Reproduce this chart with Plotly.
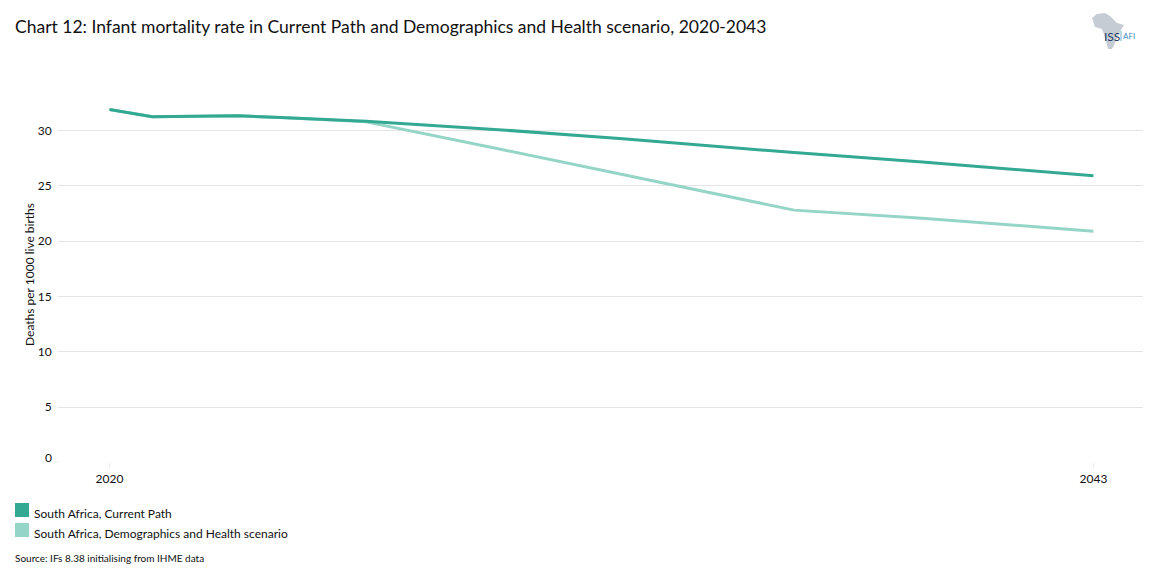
import plotly.graph_objects as go

years = [2020, 2021, 2022, 2023, 2024, 2025, 2026, 2029, 2032, 2036, 2039, 2043]
current_path = [31.9, 31.25, 31.28, 31.33, 31.17, 31.0, 30.83, 30.1, 29.25, 28.0, 27.15, 25.9]
scen_years = [2020, 2021, 2022, 2023, 2024, 2025, 2026, 2029, 2032, 2036, 2039, 2043]
scenario = [31.9, 31.25, 31.28, 31.33, 31.17, 31.0, 30.78, 28.42, 26.0, 22.8, 22.06, 20.9]
y_ticks = [5, 10, 15, 20, 25, 30]
x_ticks = [2020, 2043]
DARK = "#33a994"
LIGHT = "#95d5c8"
GRID = "#e4e4e4"
FONT = "Lato"
OFF = 8  # the page body margin
W, H = 1138, 567
L, R, T, B = 58, 1143, 60, 462.3
X0, XS = 109.5, 42.78
YS = 11.06


def px(x):
    return (x - OFF) / W


def py(y):
    return 1 - (y - OFF) / H


fig = go.Figure()
fig.add_trace(go.Scatter(x=scen_years, y=scenario, mode="lines", name="South Africa, Demographics and Health scenario",
                         line=dict(color=LIGHT, width=3), showlegend=False))
fig.add_trace(go.Scatter(x=years, y=current_path, mode="lines", name="South Africa, Current Path",
                         line=dict(color=DARK, width=3), showlegend=False))

ann = [
    ("Chart 12: Infant mortality rate in Current Path and Demographics and Health scenario, 2020-2043", 15, 26, 17.5, "#111111", "left"),
    ("South Africa, Current Path", 34, 513, 12, "#111111", "left"),
    ("South Africa, Demographics and Health scenario", 34, 533, 12, "#111111", "left"),
    ("Source: IFs 8.38 initialising from IHME data", 15, 558, 10, "#111111", "left"),
    ("0", 52, 457.5, 12, "#111111", "right"),
    ("ISS", 1104, 36, 12, "#1f3d66", "left"),
    ("AFI", 1123, 36, 8, "#3b8ec2", "left"),
]
annotations = [dict(text=t, x=px(x), y=py(y), xref="paper", yref="paper", xanchor=anc, yanchor="middle",
                    showarrow=False, borderpad=0, borderwidth=0,
                    font=dict(family=FONT, size=s, color=c)) for t, x, y, s, c, anc in ann]
annotations.append(dict(text="Deaths per 1000 live births", x=px(29), y=py(275), xref="paper", yref="paper",
                        xanchor="center", yanchor="middle", textangle=-90, showarrow=False, borderpad=0,
                        font=dict(family=FONT, size=12, color="#111111")))

africa = [(1092, 18), (1097, 14), (1105, 13), (1110, 16), (1117, 23), (1124, 25), (1118, 35), (1115, 43),
          (1112, 49), (1108, 49), (1105, 37), (1102, 29), (1095, 27)]
africa_path = "M " + " L ".join(f"{px(a):.5f} {py(b):.5f}" for a, b in africa) + " Z"
shapes = [
    dict(type="rect", xref="paper", yref="paper", x0=px(15), x1=px(29), y0=py(517), y1=py(503), fillcolor=DARK, line_width=0),
    dict(type="rect", xref="paper", yref="paper", x0=px(15), x1=px(29), y0=py(537), y1=py(523), fillcolor=LIGHT, line_width=0),
    dict(type="path", xref="paper", yref="paper", fillcolor="#c5ccd4", line_width=0, path=africa_path),
    dict(type="line", xref="paper", yref="paper", x0=px(1121), x1=px(1121), y0=py(31), y1=py(41), line=dict(color="#3b8ec2", width=0.7)),
    dict(type="line", xref="paper", yref="paper", x0=px(54), x1=px(58), y0=py(B), y1=py(B), line=dict(color="#eeeeee", width=1)),
]

fig.update_layout(
    width=W, height=H, autosize=False,
    margin=dict(l=0, r=0, t=0, b=0),
    paper_bgcolor="white", plot_bgcolor="white",
    font=dict(family=FONT, size=12, color="#111111"),
    annotations=annotations, shapes=shapes,
    xaxis=dict(domain=[px(L), px(R)],
               range=[2020 + (L - X0) / XS, 2020 + (R - X0) / XS],
               tickmode="array", tickvals=x_ticks, ticktext=[str(v) for v in x_ticks],
               showgrid=False, zeroline=False, showline=False,
               ticks="outside", ticklen=5, tickcolor="#eeeeee", tickwidth=1),
    yaxis=dict(domain=[py(B), py(T)],
               range=[0, (B - T) / YS],
               tickmode="array", tickvals=y_ticks, ticktext=[str(v) for v in y_ticks],
               showgrid=True, gridcolor=GRID, gridwidth=1, zeroline=False, showline=False,
               ticks="outside", ticklen=3, tickcolor="rgba(0,0,0,0)"),
)
fig.write_html("out.html")
